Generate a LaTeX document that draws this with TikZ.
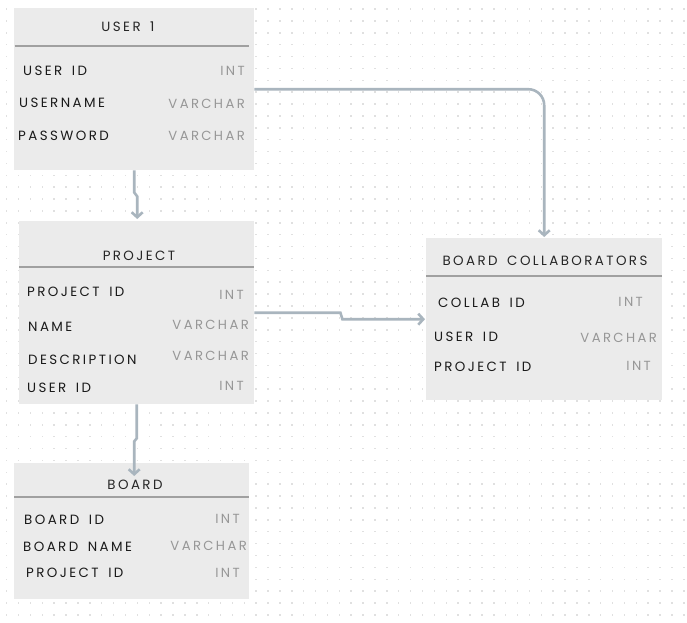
\documentclass[tikz,border=0pt]{standalone}
\usepackage{fontspec}
\setmainfont{Poppins}[LetterSpace=18,WordSpace=1.6]
\usetikzlibrary{arrows.meta,calc}
\definecolor{boxfill}{HTML}{EBEBEB}
\definecolor{dotc}{HTML}{E0E0E0}
\definecolor{conn}{HTML}{A9B5BE}
\definecolor{hline}{HTML}{A0A0A0}
\definecolor{fieldc}{HTML}{1A1A1A}
\definecolor{typec}{HTML}{979797}
\definecolor{headc}{HTML}{262626}
\tikzset{
  tbl/.style={draw=none, fill=boxfill, rectangle, inner sep=0pt, anchor=north west},
  head/.style={inner sep=0pt, yshift=-0.8pt, text=headc, font=\fontsize{13.4}{16}\selectfont},
  fld/.style={inner sep=0pt, yshift=-0.8pt, anchor=west, text=fieldc, font=\fontsize{13.4}{16}\selectfont},
  typ/.style={inner sep=0pt, yshift=-0.8pt, anchor=east, text=typec, font=\fontsize{13.2}{16}\selectfont},
  sep/.style={draw=hline, line width=1.5pt},
  link/.style={draw=conn, line width=2.6pt, -{Straight Barb[length=5pt,width=11pt]}},
}
\begin{document}
\begin{tikzpicture}[x=1pt,y=-1pt]
\useasboundingbox (0,0) rectangle (687,622);
\fill[white] (0,0) rectangle (687,622);
\foreach \i in {0,...,57}{
  \foreach \j in {0,...,51}{
    \fill[dotc] ({6.7+11.88*\i-0.75},{9+11.88*\j-0.75}) rectangle ++(1.5,1.5);
  }
}
% tables
\node[tbl, minimum width=240pt, minimum height=162pt] (user) at (14,8) {};
\node[tbl, minimum width=235pt, minimum height=183pt] (project) at (19,221) {};
\node[tbl, minimum width=235pt, minimum height=136pt] (board) at (14,463) {};
\node[tbl, minimum width=236pt, minimum height=162pt] (bc) at (426,238) {};
% header lines
\draw[sep] ($(user.north west)+(0.7,38)$) -- ($(user.north east)+(-5,38)$);
\draw[sep] ($(project.north west)+(0,46)$) -- ($(project.north east)+(0,46)$);
\draw[sep] ($(board.north west)+(0,34)$) -- ($(board.north east)+(0,34)$);
\draw[sep] ($(bc.north west)+(0,38)$) -- ($(bc.north east)+(0,38)$);
% USER 1
\node[head] (uh) at (128,26) {USER 1};
\node[fld] (u1) at (23,70) {USER ID};
\node[typ] (u1t) at (245,70) {INT};
\node[fld] (u2) at (19,102) {USERNAME};
\node[typ] (u2t) at (245,103) {VARCHAR};
\node[fld] (u3) at (18,135) {PASSWORD};
\node[typ] (u3t) at (245,135) {VARCHAR};
% PROJECT
\node[head] (ph) at (139,255) {PROJECT};
\node[fld] (p1) at (27,291) {PROJECT ID};
\node[typ] (p1t) at (244,294) {INT};
\node[fld] (p2) at (28,326) {NAME};
\node[typ] (p2t) at (249,324) {VARCHAR};
\node[fld] (p3) at (28,359) {DESCRIPTION};
\node[typ] (p3t) at (249,355) {VARCHAR};
\node[fld] (p4) at (27,387) {USER ID};
\node[typ] (p4t) at (244,385) {INT};
% BOARD
\node[head] (bh) at (135,484) {BOARD};
\node[fld] (b1) at (24,519) {BOARD ID};
\node[typ] (b1t) at (240,518) {INT};
\node[fld] (b2) at (23,546) {BOARD NAME};
\node[typ] (b2t) at (247,545) {VARCHAR};
\node[fld] (b3) at (26,572) {PROJECT ID};
\node[typ] (b3t) at (240,572) {INT};
% BOARD COLLABORATORS
\node[head] (ch) at (545,260) {BOARD COLLABORATORS};
\node[fld] (c1) at (438,302) {COLLAB ID};
\node[typ] (c1t) at (643,301) {INT};
\node[fld] (c2) at (434,336) {USER ID};
\node[typ] (c2t) at (657,337) {VARCHAR};
\node[fld] (c3) at (434,366) {PROJECT ID};
\node[typ] (c3t) at (651,365) {INT};
% connectors
\draw[link] (user.south) -- ++(0,22) -- ++(3,4) -- ($(project.north)+(0.5,-2)$);
\draw[link] (project.south) -- ++(0,34) -- ++(-2.5,3) -- ($(board.north)+(2.5,13)$);
\draw[link] (project.east) -- ++(86,0) -- ++(2,6.5) -- ($(bc.west)+(-1,0)$);
\draw[link, rounded corners=16pt] (user.east) -- (bc.north |- user.east) -- ($(bc.north)+(0,-1)$);
\end{tikzpicture}
\end{document}
